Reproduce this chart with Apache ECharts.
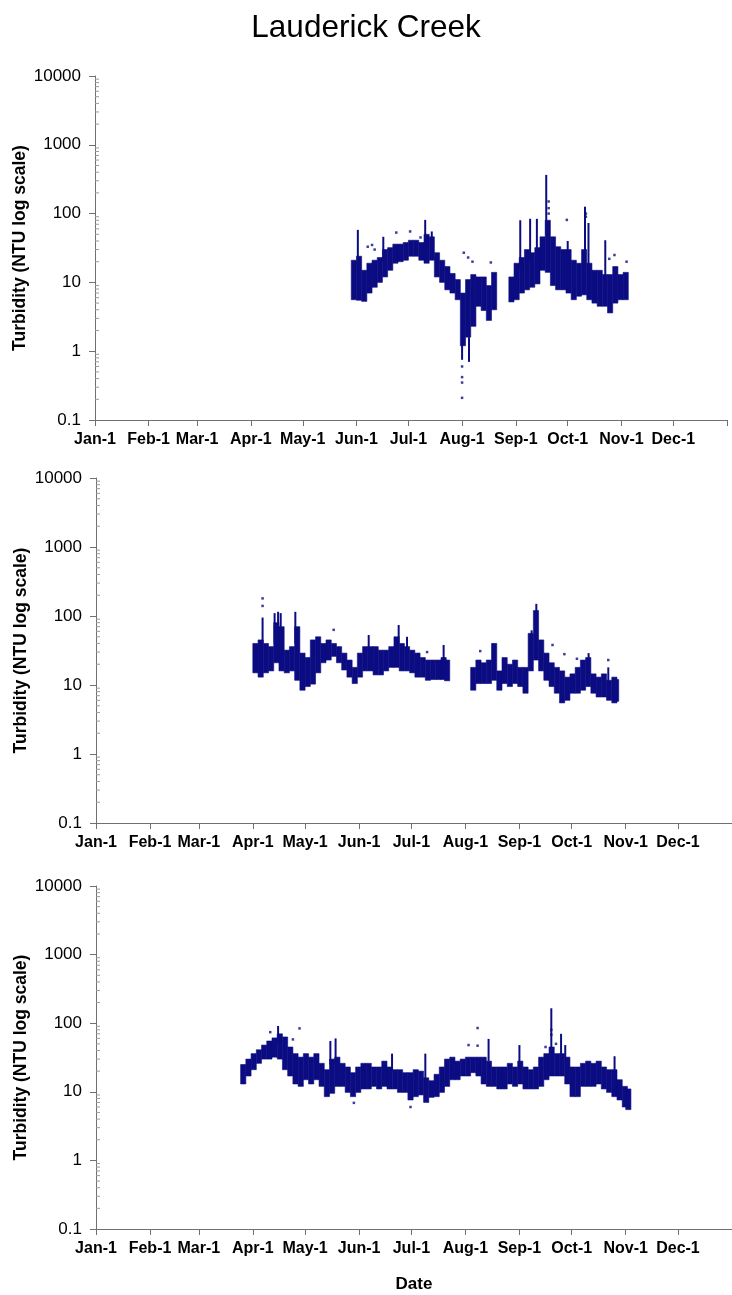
<!DOCTYPE html>
<html>
<head>
<meta charset="utf-8">
<script src="https://cdn.jsdelivr.net/npm/echarts@6/dist/echarts.min.js"></script>
<style>
html,body{margin:0;padding:0;background:#fff;}
#chart{width:732px;height:1295px;}
</style>
</head>
<body>
<div id="chart"></div>
<script>
// ---------- axis labels ----------
const monthDays = [0, 31, 59, 90, 120, 151, 181, 212, 243, 273, 304, 334];
const monthLabels = ['Jan-1','Feb-1','Mar-1','Apr-1','May-1','Jun-1','Jul-1','Aug-1','Sep-1','Oct-1','Nov-1','Dec-1'];
const tickDays = [0, 31, 59, 90, 120, 151, 181, 212, 243, 273, 304, 334, 365];
const minorTickVals = [0.2,0.3,0.4,0.5,0.6,0.7,0.8,0.9, 2,3,4,5,6,7,8,9, 20,30,40,50,60,70,80,90, 200,300,400,500,600,700,800,900, 2000,3000,4000,5000,6000,7000,8000,9000];

// ---------- panel 1 (day of year, NTU) ----------
const p1Days = [148,151,154,157,160,163,166,169,172,175,178,181,184,187,190,193,196,199,202,205,208,211,214,217,220,223,226,229,
                239,242,245,248,251,254,257,260,263,266,269,272,275,278,281,284,287,290,293,296,299,302,305];
const p1Lo = [5.6,5.5,5.3,7,8.5,10,12,15,19,20,21,24,24,21,19,21,12,10,7.8,7,5.6,1.2,1.6,2.3,4.5,3.9,2.8,4,
              5.2,5.6,7,7.8,8.5,9.5,15,14,9,7.8,7.8,7,5.6,6.3,6.6,5.6,5,4.5,4.5,3.6,5,5.6,5.6];
const p1Hi = [21,24,15,19,21,23,30,32,36,36,38,41,41,38,50,46,27,21,17,13.5,11,7,11,13,12,12,9,14,
              12,19,23,30,27,32,46,80,46,33,30,30,21,19,30,19,15,15,13,13,17,13,14];
const p1SpikeDays = [151.8,166.5,190.7,194.5,212,216,245.6,251.3,255.2,260.6,273,283,285,294.7];
const p1SpikeBase = [15,20,30,30,0.75,0.7,15,20,20,50,20,20,15,10];
const p1SpikeTop  = [58,46,81,55,1.6,1.6,80,84,84,365,40,126,73,41];
const p1DotDays = [157.5,160,161.5,174,182,188,212,212,212,212,213,215.5,218,228.6,262,262,262,272.5,283.5,283.5,307,300,297];
const p1DotVals = [33,35,30,53,55,45,0.6,0.42,0.35,0.21,27,23,20,19.5,150,120,100,81,100,90,20,25,22];

// ---------- panel 2 ----------
const p2Days = [90,93,96,99,102,105,108,111,114,117,120,123,126,129,132,135,138,141,144,147,150,153,156,159,162,165,168,171,174,177,180,183,186,189,192,195,198,200,
                215,218,221,224,227,230,233,236,239,242,245,248,251,254,257,260,263,266,269,272,275,278,281,284,287,290,293,296,297];
const p2Lo = [15,13,15,16,21,16,15,16,11.7,8.4,9.5,10.3,15,21,23,26,21,16.5,13,10.5,13,16,16,14,14,16,18,18,16,16,15,13,13,11.7,12,12,12,11.5,
              8.4,10.5,10.5,10.5,11.7,8.4,10.5,9.5,10.5,9.5,7.6,16,23,16,11.7,9.5,7.6,5.5,6,7.6,7.6,8.4,9.5,7.6,6.7,6.7,6,5.5,5.8];
const p2Hi = [40,45,40,36,80,70,32,36,70,29,25,45,50,40,45,40,36,29,23,18,29,36,36,36,32,32,36,50,40,36,32,29,25,23,23,23,25,23,
              18,23,21,23,40,16,25,20,23,18,18,56,120,45,29,21,18,16,13,14.5,18,23,25,14.5,13,14.5,11.7,13,12];
const p2SpikeDays = [95.6,102.5,104.5,106,114.4,124,156.5,173.7,178.5,199.5,228,250,252.7,282.7,294];
const p2SpikeBase = [40,40,40,40,40,25,30,40,30,20,25,30,60,15,10];
const p2SpikeTop  = [95,110,115,110,115,40,53,74,50,38,40,62,150,29,18];
const p2DotDays = [95.6,95.6,136.4,220.5,262,268.8,276,294,185,190];
const p2DotVals = [180,140,63,31,38,28,24,23,28,30];

// ---------- panel 3 ----------
const p3Days = [83,86,89,92,95,98,101,104,107,110,113,116,119,122,125,128,131,134,137,140,143,146,149,152,155,158,161,164,167,170,173,176,179,182,185,188,191,194,197,
                200,203,206,209,212,215,218,221,224,227,230,233,236,239,242,245,248,251,254,257,260,263,266,269,272,275,278,281,284,287,290,293,296,299,302,304];
const p3Lo = [13,17,21,26,30,30,32,30,21,17,13,12,15,13,15,12,8.5,9.5,12,12,9.8,8.5,9.8,11,11,12,11,12,11,11,9.8,9.8,7.6,8.5,9,7,8.3,8.5,9.8,
              12,15,15,17,17,19,17,13,12,12,11,11,13,12,13,11,11,11,12,15,17,17,17,13,8.5,8.5,12,12,12,13,11,9.8,8.5,7.6,6,5.5];
const p3Hi = [25,30,36,41,48,55,61,70,63,45,36,32,36,32,36,26,21,30,32,26,23,19,23,26,26,23,23,28,23,21,21,19,19,21,20,16,14.5,18,23,
              30,32,28,30,32,32,32,32,28,23,23,23,26,23,28,23,21,23,32,36,45,36,36,32,23,23,26,28,26,28,23,21,21,15,12,11];
const p3SpikeDays = [104.5,134.5,137.5,169.9,189,225.3,243,261.3,266.9,269.3,297.6];
const p3SpikeBase = [50,25,25,20,15,28,25,40,35,30,18];
const p3SpikeTop  = [91,55,60,36,36,59,48,165,70,48,33];
const p3DotDays = [116.8,100,113,219,219,213.8,261.3,261.3,148,180.5,258,264];
const p3DotVals = [84,74,58,85,47,48,80,68,6.9,6,45,50];

// ---------- build ----------
const NAVY = '#0c0c82';
const FONT = '"Liberation Sans", Arial, Helvetica, sans-serif';
const STEP = 3;

const panels = [
  {days:p1Days, lo:p1Lo, hi:p1Hi, sd:p1SpikeDays, sb:p1SpikeBase, st:p1SpikeTop, dd:p1DotDays, dv:p1DotVals},
  {days:p2Days, lo:p2Lo, hi:p2Hi, sd:p2SpikeDays, sb:p2SpikeBase, st:p2SpikeTop, dd:p2DotDays, dv:p2DotVals},
  {days:p3Days, lo:p3Lo, hi:p3Hi, sd:p3SpikeDays, sb:p3SpikeBase, st:p3SpikeTop, dd:p3DotDays, dv:p3DotVals}
];

const grids = [
  {left:95, top:76, width:632, height:344, outerBoundsMode:'none', containLabel:false},
  {left:96, top:478, width:636, height:345, outerBoundsMode:'none', containLabel:false},
  {left:96, top:886, width:636, height:343, outerBoundsMode:'none', containLabel:false}
];

function fmtY(v){ return String(Number(Number(v).toPrecision(6))); }

const xAxes = [], yAxes = [], series = [];
panels.forEach((p, i) => {
  xAxes.push({
    gridIndex:i, type:'value', min:0, max:365,
    name: i === 2 ? 'Date' : '', nameLocation:'middle', nameGap:47, nameMoveOverlap:false,
    nameTextStyle:{fontFamily:FONT, fontWeight:'bold', fontSize:17, color:'#000'},
    axisLine:{show:true, onZero:false, lineStyle:{color:'#707070', width:1}},
    axisTick:{show:true, customValues:tickDays, length:6, lineStyle:{color:'#707070'}},
    axisLabel:{show:true, customValues:monthDays, margin:12, fontFamily:FONT, fontWeight:'bold', fontSize:16, color:'#000',
      formatter:(v)=>{ const k = monthDays.indexOf(Math.round(v)); return k >= 0 ? monthLabels[k] : ''; }},
    splitLine:{show:false}
  });
  yAxes.push({
    gridIndex:i, type:'log', logBase:10, min:0.1, max:10000,
    name:'Turbidity (NTU log scale)', nameLocation:'middle', nameGap:66, nameMoveOverlap:false,
    nameTextStyle:{fontFamily:FONT, fontWeight:'bold', fontSize:17.5, color:'#000'},
    axisLine:{show:true, lineStyle:{color:'#707070', width:1}},
    axisTick:{show:true, length:6, lineStyle:{color:'#707070'}},
    axisLabel:{fontFamily:FONT, fontSize:17, color:'#000', margin:14, formatter:fmtY},
    splitLine:{show:false}
  });
  // minor log ticks
  series.push({
    type:'custom', xAxisIndex:i, yAxisIndex:i, silent:true, clip:false,
    data: minorTickVals.map(v => [0, v]),
    renderItem:(params, api) => {
      const c = api.coord([0, api.value(1)]);
      return {type:'line', shape:{x1:c[0], y1:c[1], x2:c[0]+4, y2:c[1]}, style:{stroke:'#9a9a9a', lineWidth:1}};
    }
  });
  // range bands
  series.push({
    type:'custom', xAxisIndex:i, yAxisIndex:i, silent:true,
    data: p.days.map((d, k) => [d, p.lo[k], p.hi[k]]),
    renderItem:(params, api) => {
      const d = api.value(0);
      const a = api.coord([d, api.value(2)]);
      const b = api.coord([d + STEP, api.value(1)]);
      return {type:'rect', shape:{x:a[0], y:a[1], width:b[0]-a[0], height:b[1]-a[1]},
        style:{fill:NAVY, stroke:NAVY, lineWidth:0.6}};
    }
  });
  // spikes
  series.push({
    type:'custom', xAxisIndex:i, yAxisIndex:i, silent:true,
    data: p.sd.map((d, k) => [d, p.sb[k], p.st[k]]),
    renderItem:(params, api) => {
      const d = api.value(0);
      const a = api.coord([d, api.value(1)]);
      const b = api.coord([d, api.value(2)]);
      return {type:'line', shape:{x1:a[0], y1:a[1], x2:b[0], y2:b[1]}, style:{stroke:NAVY, lineWidth:2}};
    }
  });
  // isolated points
  series.push({
    type:'scatter', xAxisIndex:i, yAxisIndex:i, silent:true,
    symbol:'rect', symbolSize:2.5, itemStyle:{color:NAVY},
    data: p.dd.map((d, k) => [d, p.dv[k]])
  });
});

const chart = echarts.init(document.getElementById('chart'), null, {renderer:'canvas'});
chart.setOption({
  animation:false,
  backgroundColor:'#fff',
  title:{text:'Lauderick Creek', left:'center', top:7,
    textStyle:{fontFamily:FONT, fontWeight:'normal', fontSize:31.5, color:'#000'}},
  grid:grids, xAxis:xAxes, yAxis:yAxes, series:series
});
</script>
</body>
</html>
